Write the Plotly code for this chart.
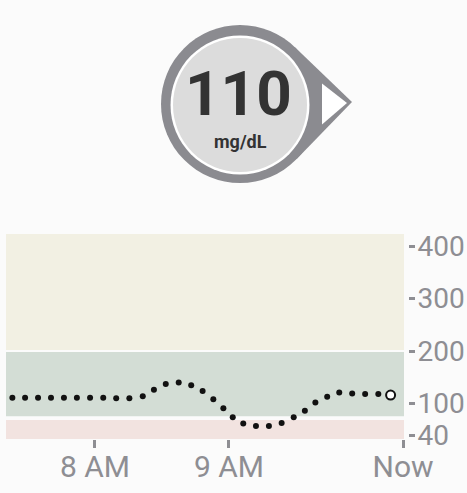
import math
import plotly.graph_objects as go

# ---- data ----
reading_min = [443.0, 448.7, 454.5, 460.3, 466.1, 471.9, 477.8, 483.7, 489.5, 495.4,
               501.4, 506.4, 511.7, 517.5, 523.1, 528.2, 533.0, 537.5, 541.7, 546.4,
               552.1, 557.9, 563.6, 569.0, 574.0, 578.7, 584.0, 589.4, 595.2, 601.0,
               606.9, 612.4]
glucose = [111, 111, 111, 111, 111, 111, 111, 111, 110, 110,
           114, 126, 137, 140, 135, 124, 108, 91, 74, 62,
           57, 57, 63, 74, 86, 102, 113, 121, 119, 118,
           118, 116]
current_value = "110"
unit_label = "mg/dL"
x_tick_vals = [480, 540, 618]
x_tick_text = ["8 AM", "9 AM", "Now"]
y_tick_vals = [40, 100, 200, 300, 400]
band_low, band_high = 72, 200

W, H = 467, 493
BG = "#fbfbfb"
GRAY = "#8e8e93"
RING = "#8b8b90"
DISC = "#dcdcdc"

x_range = [440.15, 618.4]
y_range = [32.4, 422.9]

fig = go.Figure()

# history dots (all but the last)
fig.add_trace(go.Scatter(
    x=reading_min[:-1], y=glucose[:-1], mode="markers",
    marker=dict(size=6, color="#111111", line=dict(width=0)),
    hoverinfo="skip", showlegend=False))
# current reading (open circle)
fig.add_trace(go.Scatter(
    x=reading_min[-1:], y=glucose[-1:], mode="markers",
    marker=dict(size=9, color="white", line=dict(width=2, color="#111111")),
    hoverinfo="skip", showlegend=False))

# range bands
fig.add_shape(type="rect", xref="x domain", yref="y", x0=0, x1=1,
              y0=band_high + 2, y1=y_range[1], fillcolor="#f2f0e3",
              line=dict(width=0), layer="below")
fig.add_shape(type="rect", xref="x domain", yref="y", x0=0, x1=1,
              y0=band_low + 3.5, y1=band_high - 2, fillcolor="#d3ddd5",
              line=dict(width=0), layer="below")
fig.add_shape(type="rect", xref="x domain", yref="y", x0=0, x1=1,
              y0=y_range[0], y1=band_low - 3.5, fillcolor="#f2e3e0",
              line=dict(width=0), layer="below")

# header gauge (drawn on a pixel-scaled hidden axis pair)
cx, cy, R = 240, 104, 79
tip = (352, 102)
d = math.hypot(tip[0] - cx, tip[1] - cy)
ang = math.atan2(tip[1] - cy, tip[0] - cx)
th = math.acos(R / d)
p1 = (cx + R * math.cos(ang - th), cy + R * math.sin(ang - th))
p2 = (cx + R * math.cos(ang + th), cy + R * math.sin(ang + th))
fig.add_shape(type="circle", xref="x2", yref="y2",
              x0=cx - R, x1=cx + R, y0=cy - R, y1=cy + R,
              fillcolor=RING, line=dict(width=0))
fig.add_shape(type="path", xref="x2", yref="y2",
              path=(f"M {p1[0]:.2f},{p1[1]:.2f} L {tip[0]},{tip[1]} "
                    f"L {p2[0]:.2f},{p2[1]:.2f} L {cx},{cy} Z"),
              fillcolor=RING, line=dict(width=0))
fig.add_shape(type="path", xref="x2", yref="y2",
              path="M 322,83.5 L 347,103 L 322,124.5 Z",
              fillcolor="white", line=dict(width=0))
fig.add_shape(type="circle", xref="x2", yref="y2",
              x0=cx - 69.5, x1=cx + 69.5, y0=cy + 1 - 69.5, y1=cy + 1 + 69.5,
              fillcolor="white", line=dict(width=0))
fig.add_shape(type="circle", xref="x2", yref="y2",
              x0=cx - 67, x1=cx + 67, y0=cy + 1 - 67, y1=cy + 1 + 67,
              fillcolor=DISC, line=dict(width=0))
fig.add_annotation(x=238, y=93, xref="x2", yref="y2", text=f"<b>{current_value}</b>",
                   showarrow=False, font=dict(family="Roboto", size=62, color="#333333"))
fig.add_annotation(x=240, y=141, xref="x2", yref="y2", text=f"<b>{unit_label}</b>",
                   showarrow=False, font=dict(family="Roboto", size=18, color="#333333"))

fig.update_layout(
    width=W, height=H, margin=dict(l=0, r=0, t=0, b=0),
    paper_bgcolor=BG, plot_bgcolor="rgba(0,0,0,0)",
    showlegend=False,
    xaxis=dict(domain=[6 / W, 404 / W], range=x_range, anchor="y",
               tickvals=x_tick_vals, ticktext=x_tick_text,
               ticks="outside", ticklen=8, tickwidth=3, tickcolor=GRAY,
               ticklabelstandoff=-7,
               showgrid=False, zeroline=False, showline=False,
               tickfont=dict(family="Roboto", size=30, color=GRAY),
               automargin=False, fixedrange=True),
    yaxis=dict(domain=[1 - 439 / H, 1 - 234 / H], range=y_range,
               anchor="free", position=408 / W, side="right",
               tickvals=y_tick_vals, ticks="outside", ticklen=6, tickwidth=3,
               tickcolor=GRAY, ticklabelstandoff=-3,
               showgrid=False, zeroline=False, showline=False,
               tickfont=dict(family="Roboto", size=28, color=GRAY),
               automargin=False, fixedrange=True),
    xaxis2=dict(domain=[0, 1], range=[0, W], anchor="y2", visible=False, fixedrange=True),
    yaxis2=dict(domain=[0, 1], range=[H, 0], anchor="x2", visible=False, fixedrange=True),
)

fig.write_html("out.html", config={"displayModeBar": False},
               post_script="document.body.style.margin='0';document.body.style.overflow='hidden';")
